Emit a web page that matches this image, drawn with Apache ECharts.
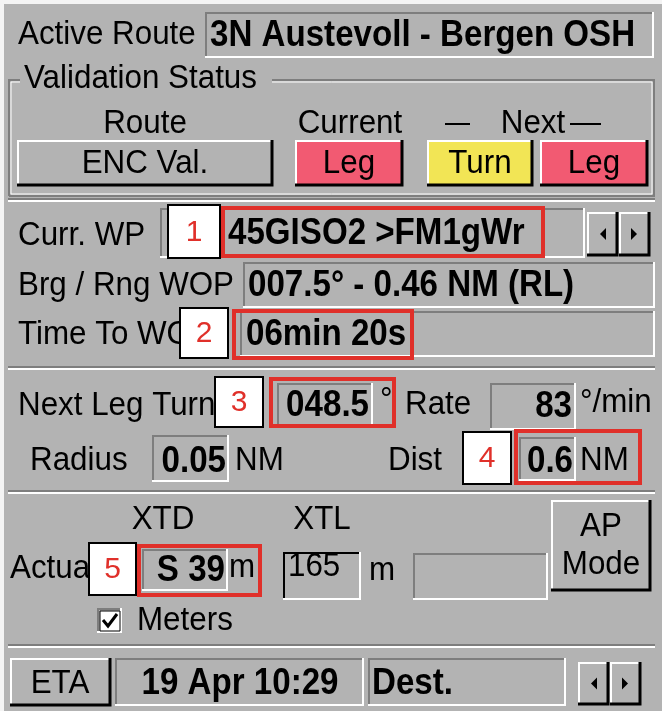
<!DOCTYPE html>
<html lang="en">
<head>
  <meta charset="UTF-8">
  <title>Route Monitor</title>
  <style>
    html, body { margin: 0; padding: 0; background: #fff; }
    #panel { width: 662px; height: 711px; }
  </style>
</head>
<body>
  <div id="panel"></div>
  <script src="https://cdn.jsdelivr.net/npm/echarts@6/dist/echarts.min.js"></script>
  <script>
    // texts shown on the panel
    var routeLabel = 'Active Route';
    var routeName = '3N Austevoll - Bergen OSH';
    var groupTitle = 'Validation Status';
    var statusHeaders = ['Route', 'Current', 'Next'];
    var statusButtons = ['ENC Val.', 'Leg', 'Turn', 'Leg'];
    var wpLabels = ['Curr. WP', 'Brg / Rng WOP', 'Time To WOP'];
    var wpValues = ['45GISO2 >FM1gWr', '007.5\u00b0 - 0.46 NM (RL)', '06min 20s'];
    var turnLabels = ['Next Leg Turn', 'Rate', 'Radius', 'Dist'];
    var turnValues = ['048.5', '83', '0.05', '0.6'];
    var turnUnits = ['\u00b0', '\u00b0/min', 'NM', 'NM'];
    var xtLabels = ['XTD', 'XTL', 'Actual', 'Meters'];
    var xtValues = ['S 39', '165'];
    var xtUnits = ['m', 'm'];
    var apLines = ['AP', 'Mode'];
    var etaTexts = ['ETA', '19 Apr 10:29', 'Dest.'];
    var markers = ['1', '2', '3', '4', '5'];

    var BG = '#b3b3b3';
    var FONT = '"Liberation Sans", Arial, sans-serif';
    var els = [];

    // the panel font is a tall, narrow one: squeeze it a bit
    function txt(x, y, s, o) {
      o = o || {};
      els.push({
        type: 'text', x: x, y: y, z: o.z || 5,
        scaleX: o.bold ? 0.92 : 0.95,
        style: {
          text: s, fill: o.color || '#000',
          font: (o.bold ? 'bold 36px ' : '33px ') + FONT,
          textAlign: o.align || 'left', textVerticalAlign: 'middle'
        }
      });
    }
    function line(pts, color, w, z) {
      els.push({ type: 'polyline', z: z || 3, shape: { points: pts }, style: { stroke: color, lineWidth: w || 2, fill: null } });
    }
    function sunken(x, y, w, h) {
      els.push({ type: 'rect', z: 2, shape: { x: x, y: y, width: w, height: h }, style: { fill: BG } });
      line([[x + 1, y + h], [x + 1, y + 1], [x + w, y + 1]], '#7e7e7e', 2);
      line([[x, y + h - 1], [x + w - 1, y + h - 1], [x + w - 1, y]], '#ffffff', 2);
    }
    function raised(x, y, w, h, fill) {
      els.push({ type: 'rect', z: 2, shape: { x: x, y: y, width: w, height: h }, style: { fill: fill || BG } });
      line([[x + 1, y + h], [x + 1, y + 1], [x + w, y + 1]], '#ffffff', 2);
      line([[x, y + h - 1], [x + w - 1, y + h - 1], [x + w - 1, y]], '#000000', 3);
    }
    function etched(x1, x2, y) {
      line([[x1, y], [x2, y]], '#7e7e7e', 2);
      line([[x1, y + 2], [x2, y + 2]], '#ffffff', 2);
    }
    function arrows(x, y, h) {
      raised(x, y, 31, h);
      raised(x + 32, y, 31, h);
      var cy = y + h / 2;
      els.push({ type: 'polygon', z: 4, shape: { points: [[x + 19, cy - 6], [x + 19, cy + 6], [x + 13, cy]] }, style: { fill: '#000' } });
      els.push({ type: 'polygon', z: 4, shape: { points: [[x + 44, cy - 6], [x + 44, cy + 6], [x + 50, cy]] }, style: { fill: '#000' } });
    }
    function marker(x, y, w, h, s) {
      els.push({ type: 'rect', z: 8, shape: { x: x, y: y, width: w, height: h }, style: { fill: '#fff', stroke: '#000', lineWidth: 2 } });
      els.push({ type: 'text', z: 9, x: x + w / 2, y: y + h / 2 + 1, style: { text: s, fill: '#e0302a', font: '30px "Liberation Sans", Arial, sans-serif', textAlign: 'center', textVerticalAlign: 'middle' } });
    }
    function redBox(x, y, w, h) {
      els.push({ type: 'rect', z: 7, shape: { x: x, y: y, width: w, height: h }, style: { fill: null, stroke: '#e0302a', lineWidth: 4 } });
    }

    // outer frame
    els.push({ type: 'rect', z: 0, shape: { x: 0, y: 0, width: 662, height: 711 }, style: { fill: '#f4f4f4' } });
    els.push({ type: 'rect', z: 1, shape: { x: 4, y: 4, width: 658, height: 707 }, style: { fill: BG } });

    // active route
    txt(18, 35, routeLabel);
    sunken(205, 12, 449, 46);
    txt(210, 36, routeName, { bold: true });

    // validation group
    line([[9, 196], [9, 80], [654, 80], [654, 196], [9, 196]], '#7e7e7e', 2);
    line([[11, 194], [11, 82], [652, 82], [652, 194], [11, 194]], '#ffffff', 1);
    els.push({ type: 'rect', z: 4, shape: { x: 20, y: 62, width: 252, height: 32 }, style: { fill: BG } });
    txt(24, 79, groupTitle);
    txt(145, 124, statusHeaders[0], { align: 'center' });
    txt(350, 124, statusHeaders[1], { align: 'center' });
    txt(533, 124, statusHeaders[2], { align: 'center' });
    line([[445, 124], [470, 124]], '#000', 2);
    line([[570, 124], [601, 124]], '#000', 2);
    var btnX = [17, 295, 427, 540], btnW = [256, 108, 106, 108];
    var btnFill = [BG, '#f25a72', '#f2e555', '#f25a72'];
    for (var i = 0; i < 4; i++) {
      raised(btnX[i], 140, btnW[i], 46, btnFill[i]);
      txt(btnX[i] + btnW[i] / 2, 164, statusButtons[i], { align: 'center' });
    }

    etched(8, 655, 199);

    // waypoint rows
    txt(18, 236, wpLabels[0]);
    sunken(160, 208, 425, 50);
    txt(228, 234, wpValues[0], { bold: true });
    arrows(587, 212, 44);
    txt(18, 286, wpLabels[1]);
    sunken(243, 262, 412, 46);
    txt(248, 286, wpValues[1], { bold: true });
    txt(18, 335, wpLabels[2]);
    sunken(240, 311, 415, 46);
    txt(246, 335, wpValues[2], { bold: true });

    etched(8, 655, 367);

    // turn rows
    txt(18, 406, turnLabels[0]);
    sunken(277, 383, 96, 44);
    txt(369, 406, turnValues[0], { bold: true, align: 'right' });
    txt(380, 401, turnUnits[0]);
    txt(405, 405, turnLabels[1]);
    sunken(490, 383, 86, 47);
    txt(572, 407, turnValues[1], { bold: true, align: 'right' });
    txt(580, 403, turnUnits[1]);
    txt(30, 461, turnLabels[2]);
    sunken(152, 435, 77, 47);
    txt(226, 462, turnValues[2], { bold: true, align: 'right' });
    txt(235, 461, turnUnits[2]);
    txt(388, 461, turnLabels[3]);
    sunken(519, 437, 57, 44);
    txt(573, 462, turnValues[3], { bold: true, align: 'right' });
    txt(580, 461, turnUnits[3]);

    etched(8, 655, 491);

    // cross track rows
    txt(163, 520, xtLabels[0], { align: 'center' });
    txt(322, 520, xtLabels[1], { align: 'center' });
    raised(551, 500, 100, 91);
    txt(601, 527, apLines[0], { align: 'center' });
    txt(601, 565, apLines[1], { align: 'center' });
    txt(10, 569, xtLabels[2]);
    sunken(142, 549, 86, 42);
    txt(225, 571, xtValues[0], { bold: true, align: 'right' });
    txt(229, 568, xtUnits[0]);
    els.push({ type: 'rect', z: 2, shape: { x: 283, y: 552, width: 78, height: 48 }, style: { fill: BG } });
    line([[284, 600], [284, 553], [361, 553]], '#000000', 2);
    line([[283, 599], [360, 599], [360, 552]], '#ffffff', 2);
    txt(288, 567, xtValues[1]);
    txt(369, 571, xtUnits[1]);
    sunken(413, 553, 135, 47);
    sunken(97, 608, 25, 25);
    els.push({ type: 'rect', z: 3, shape: { x: 100, y: 611, width: 20, height: 20 }, style: { fill: '#fff', stroke: '#000', lineWidth: 1 } });
    line([[103, 620], [108, 626], [117, 614]], '#000', 3, 4);
    txt(137, 621, xtLabels[3]);

    etched(8, 655, 645);

    // eta row
    raised(10, 658, 101, 48);
    txt(60, 684, etaTexts[0], { align: 'center' });
    sunken(115, 658, 249, 48);
    txt(240, 684, etaTexts[1], { bold: true, align: 'center' });
    sunken(368, 658, 198, 48);
    txt(372, 684, etaTexts[2], { bold: true });
    arrows(578, 662, 43);

    // callout markers
    marker(168, 205, 52, 53, markers[0]);
    redBox(223, 208, 320, 48);
    marker(180, 308, 48, 50, markers[1]);
    redBox(234, 311, 178, 47);
    marker(215, 377, 48, 50, markers[2]);
    redBox(271, 379, 123, 47);
    marker(463, 432, 48, 52, markers[3]);
    redBox(516, 431, 124, 52);
    marker(89, 543, 47, 52, markers[4]);
    redBox(139, 546, 121, 49);

    var chart = echarts.init(document.getElementById('panel'));
    chart.setOption({
      animation: false,
      backgroundColor: '#ffffff',
      graphic: { elements: els }
    });
  </script>
</body>
</html>
